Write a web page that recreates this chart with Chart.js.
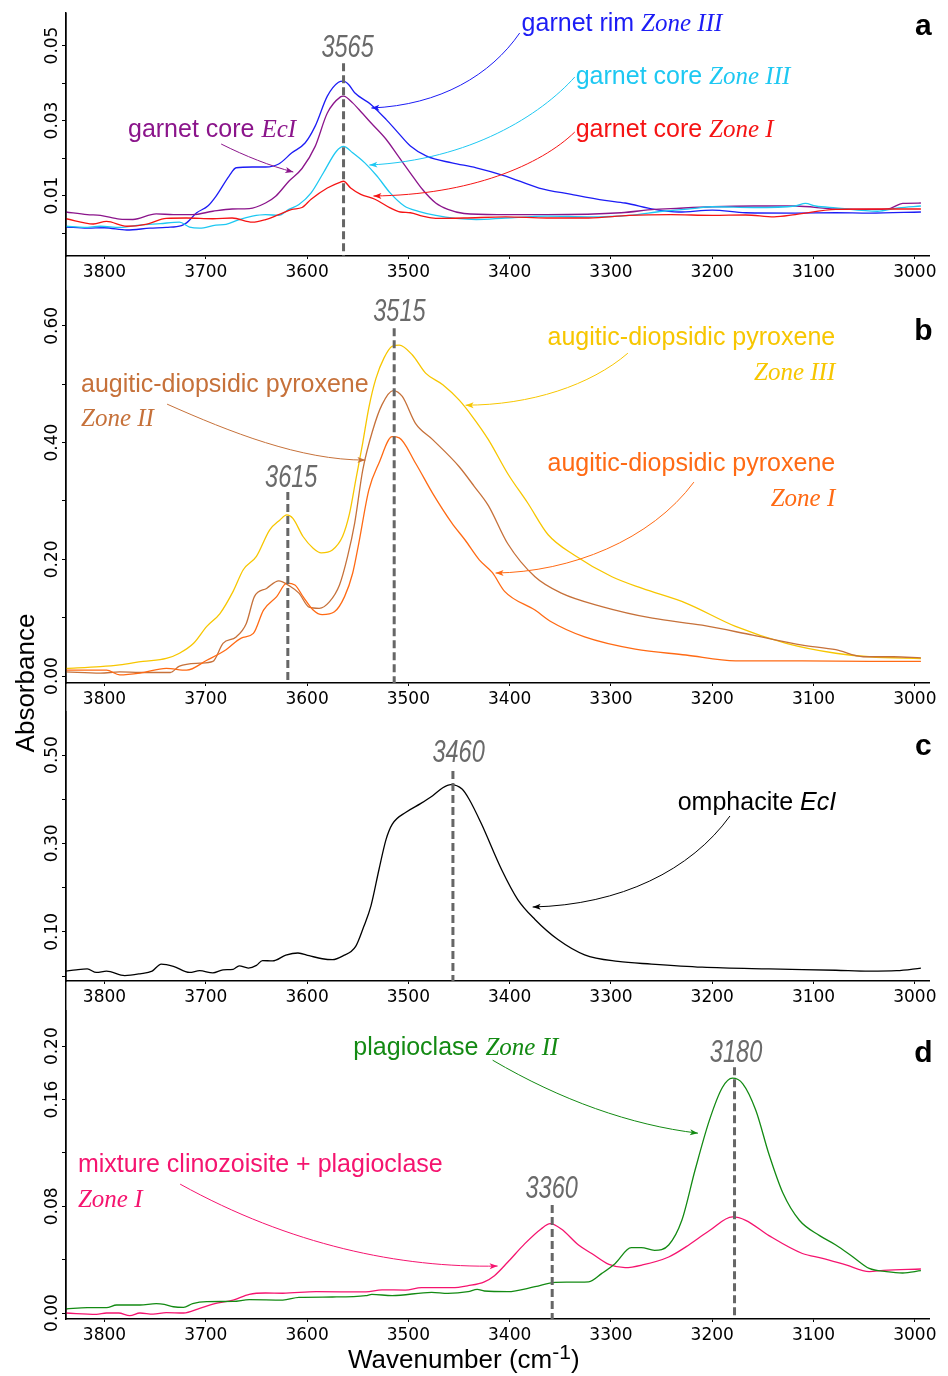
<!DOCTYPE html>
<html>
<head>
<meta charset="utf-8">
<script src="https://cdn.jsdelivr.net/npm/chart.js@4.4.1/dist/chart.umd.min.js"></script>
<style>
  body { margin: 0; background: #fff; }
  #wrap { position: relative; width: 948px; height: 1376px; overflow: hidden; background: #fff; }
  #wrap canvas { position: absolute; left: 0; }
  .title { position: absolute; font-family: "Liberation Sans", Arial, sans-serif; font-size: 26px; color: #000; white-space: nowrap; line-height: 30px; }
</style>
</head>
<body>
<div id="wrap">
  <canvas id="panelA" width="948" height="290" style="top:0"></canvas>
  <canvas id="panelB" width="948" height="420" style="top:290px"></canvas>
  <canvas id="panelC" width="948" height="300" style="top:710px"></canvas>
  <canvas id="panelD" width="948" height="366" style="top:1010px"></canvas>
  <div class="title" style="left:-75px; top:668px; width:200px; height:30px; text-align:center; transform:rotate(-90deg);">Absorbance</div>
  <div class="title" style="left:348px; top:1344px;">Wavenumber (cm<sup style="font-size:21px; vertical-align:9px; line-height:0">-1</sup>)</div>
</div>
<script>
// wavenumber axis
const xTicks = [3800, 3700, 3600, 3500, 3400, 3300, 3200, 3100, 3000];

// panel a : garnet
const waveRimIII = [3838,3817,3800,3778,3755,3739,3724,3719,3709,3698,3690,3677,3670,3654,3641,3628,3615,3602,3592,3580,3569,3564,3559,3553,3537,3522,3510,3498,3482,3457,3433,3404,3371,3339,3306,3286,3257,3233,3200,3167,3118,3078,3045,2994];
const absRimIII = [0.0016,0.0013,0.0014,0.0008,0.0013,0.0015,0.0020,0.0027,0.0054,0.0072,0.0098,0.0152,0.0174,0.0176,0.0176,0.0184,0.0214,0.0240,0.0285,0.0365,0.0402,0.0405,0.0396,0.0374,0.0343,0.0303,0.0267,0.0232,0.0205,0.0187,0.0174,0.0152,0.0120,0.0103,0.0087,0.0080,0.0063,0.0056,0.0061,0.0054,0.0053,0.0054,0.0053,0.0056];
const waveCoreEcI = [3838,3817,3804,3785,3772,3749,3732,3713,3693,3674,3657,3641,3631,3618,3605,3592,3580,3567,3564,3555,3549,3537,3522,3510,3498,3486,3473,3461,3445,3412,3363,3290,3257,3241,3200,3159,3118,3078,3037,3024,3012,2994];
const absCoreEcI = [0.0056,0.0049,0.0047,0.0037,0.0036,0.0051,0.0049,0.0049,0.0058,0.0064,0.0065,0.0080,0.0098,0.0138,0.0172,0.0231,0.0320,0.0363,0.0365,0.0347,0.0330,0.0294,0.0250,0.0205,0.0160,0.0116,0.0080,0.0063,0.0052,0.0049,0.0049,0.0054,0.0063,0.0065,0.0070,0.0072,0.0072,0.0064,0.0063,0.0066,0.0079,0.0080];
const waveCoreIII = [3838,3820,3804,3785,3765,3745,3726,3716,3706,3690,3680,3667,3654,3641,3628,3618,3608,3596,3584,3571,3564,3555,3543,3531,3518,3504,3490,3473,3453,3433,3404,3363,3322,3282,3249,3220,3200,3159,3118,3108,3098,3078,3037,3016,2994];
const absCoreIII = [0.0018,0.0015,0.0018,0.0015,0.0021,0.0025,0.0029,0.0016,0.0013,0.0021,0.0023,0.0036,0.0045,0.0049,0.0047,0.0063,0.0076,0.0107,0.0160,0.0218,0.0231,0.0214,0.0187,0.0152,0.0107,0.0072,0.0058,0.0047,0.0039,0.0036,0.0040,0.0045,0.0043,0.0047,0.0058,0.0065,0.0070,0.0068,0.0072,0.0079,0.0072,0.0067,0.0058,0.0067,0.0072];
const waveCoreI = [3838,3811,3798,3778,3758,3739,3719,3693,3674,3654,3641,3628,3615,3605,3596,3580,3567,3564,3557,3547,3533,3518,3508,3498,3486,3473,3445,3404,3363,3322,3282,3241,3200,3167,3139,3118,3078,3037,2994];
const absCoreI = [0.0038,0.0024,0.0031,0.0018,0.0024,0.0039,0.0040,0.0038,0.0040,0.0029,0.0036,0.0049,0.0063,0.0068,0.0090,0.0120,0.0136,0.0138,0.0120,0.0103,0.0090,0.0067,0.0056,0.0054,0.0045,0.0039,0.0040,0.0043,0.0040,0.0040,0.0047,0.0049,0.0047,0.0048,0.0043,0.0049,0.0063,0.0064,0.0064];
const yTicksA = [0, 0.01, 0.02, 0.03, 0.04, 0.05];
const yLabelsA = [0.01, 0.03, 0.05];

// panel b : augitic-diopsidic pyroxene
const wavePxIII = [3838,3804,3785,3762,3739,3726,3712,3699,3686,3673,3663,3650,3637,3627,3620,3614,3604,3594,3586,3575,3565,3558,3552,3545,3539,3532,3524,3516,3509,3496,3483,3466,3450,3437,3421,3402,3382,3362,3336,3299,3269,3226,3177,3127,3078,3045,2994];
const absPxIII = [0.013,0.016,0.019,0.025,0.030,0.039,0.056,0.085,0.107,0.145,0.182,0.205,0.250,0.267,0.276,0.270,0.239,0.219,0.211,0.216,0.239,0.279,0.335,0.400,0.460,0.510,0.545,0.565,0.567,0.550,0.519,0.499,0.473,0.445,0.405,0.347,0.296,0.242,0.207,0.170,0.150,0.125,0.085,0.056,0.039,0.033,0.030];
const wavePxII = [3838,3804,3785,3765,3735,3726,3706,3693,3683,3670,3660,3652,3640,3628,3617,3608,3598,3588,3578,3568,3560,3553,3545,3535,3526,3515,3506,3493,3476,3450,3435,3421,3402,3375,3349,3309,3259,3210,3160,3111,3078,3051,3021,2994];
const absPxII = [0.007,0.005,0.007,0.006,0.006,0.017,0.022,0.025,0.056,0.067,0.090,0.136,0.150,0.163,0.154,0.142,0.118,0.116,0.127,0.156,0.205,0.262,0.353,0.422,0.465,0.489,0.479,0.433,0.405,0.359,0.325,0.292,0.227,0.170,0.142,0.119,0.099,0.087,0.070,0.053,0.045,0.033,0.033,0.031];
const wavePxI = [3838,3798,3785,3765,3739,3719,3699,3680,3665,3653,3643,3630,3620,3612,3604,3594,3585,3573,3563,3555,3549,3539,3529,3516,3509,3493,3476,3457,3444,3430,3417,3405,3375,3359,3326,3276,3226,3177,3111,3045,2994];
const absPxI = [0.010,0.010,0.002,0.005,0.013,0.010,0.027,0.045,0.065,0.073,0.113,0.136,0.159,0.156,0.136,0.113,0.105,0.110,0.136,0.176,0.227,0.319,0.365,0.410,0.408,0.365,0.313,0.262,0.233,0.199,0.177,0.145,0.113,0.093,0.067,0.046,0.036,0.026,0.026,0.025,0.025];
const yTicksB = [0, 0.1, 0.2, 0.3, 0.4, 0.5, 0.6];
const yLabelsB = [0, 0.2, 0.4, 0.6];

// panel c : omphacite
const waveOmph = [3838,3828,3817,3808,3798,3780,3765,3753,3744,3732,3716,3706,3693,3683,3673,3667,3658,3650,3644,3634,3621,3609,3598,3585,3575,3565,3552,3544,3537,3529,3522,3516,3502,3488,3476,3466,3458,3447,3440,3428,3408,3392,3375,3352,3326,3293,3260,3210,3144,3078,3045,3018,2994];
const absOmph = [0.011,0.014,0.016,0.008,0.011,0.001,0.005,0.011,0.027,0.022,0.008,0.012,0.007,0.014,0.015,0.023,0.018,0.024,0.035,0.034,0.047,0.052,0.046,0.039,0.037,0.045,0.067,0.112,0.158,0.241,0.309,0.343,0.371,0.390,0.408,0.426,0.433,0.423,0.400,0.345,0.241,0.173,0.128,0.082,0.048,0.033,0.027,0.020,0.016,0.013,0.011,0.012,0.018];
const yTicksC = [0, 0.1, 0.2, 0.3, 0.4, 0.5];
const yLabelsC = [0.1, 0.3, 0.5];

// panel d : plagioclase / clinozoisite
const wavePlag = [3838,3817,3798,3788,3765,3749,3741,3732,3722,3713,3699,3673,3657,3624,3608,3575,3542,3536,3516,3477,3461,3441,3432,3425,3402,3375,3355,3322,3309,3296,3280,3270,3257,3243,3230,3217,3203,3190,3180,3170,3157,3144,3130,3114,3094,3078,3061,3045,3028,3012,2994];
const absPlag = [0.003,0.004,0.004,0.006,0.006,0.007,0.0065,0.0047,0.0042,0.007,0.0085,0.0087,0.010,0.0097,0.0117,0.012,0.013,0.014,0.013,0.0155,0.0147,0.016,0.0177,0.0165,0.016,0.0197,0.023,0.0234,0.0297,0.037,0.049,0.049,0.047,0.051,0.0695,0.107,0.144,0.169,0.176,0.172,0.152,0.119,0.0895,0.0695,0.058,0.051,0.042,0.0334,0.031,0.030,0.0317];
const waveMix = [3838,3808,3798,3786,3775,3765,3752,3739,3722,3706,3693,3673,3657,3641,3624,3591,3542,3526,3503,3487,3457,3441,3425,3415,3402,3385,3369,3360,3349,3332,3319,3302,3286,3269,3243,3226,3203,3180,3167,3144,3111,3091,3068,3045,3031,2994];
const absMix = [0.000,-0.001,0.000,0.000,-0.002,0.000,-0.0008,0.0003,0.000,0.0035,0.0067,0.0097,0.014,0.015,0.0148,0.016,0.0158,0.0174,0.0172,0.019,0.019,0.0205,0.0234,0.028,0.038,0.052,0.063,0.067,0.063,0.051,0.0446,0.0364,0.034,0.036,0.042,0.0496,0.0616,0.072,0.0695,0.058,0.0446,0.041,0.036,0.031,0.032,0.033];
const yTicksD = [0, 0.04, 0.08, 0.12, 0.16, 0.20];
const yLabelsD = [0, 0.08, 0.16, 0.20];

const COL = {
  rim: '#1c1cf5', coreIII: '#1ec8f2', coreI: '#f51414', ecI: '#8b158b',
  pxIII: '#f7c600', pxII: '#c6713a', pxI: '#ff6a14', omph: '#000000',
  plag: '#138a13', mix: '#f5146f', peak: '#6a6a6a'
};
const FONTS = {
  sans: '25px "Liberation Sans"',
  serif: 'italic 25px "Liberation Serif"',
  sansIt: 'italic 25px "Liberation Sans"'
};
const tickFont = { family: 'DejaVu Sans', size: 17 };

// annotations (positions in wavenumber / absorbance units)
const panels = {
  panelA: {
    yMin: -0.00613, yMax: 0.05867, padTop: 13, xAxisH: 34, axisFromTop: false, axisToBottom: true,
    yTicks: yTicksA, yLabels: yLabelsA,
    series: [
      { wave: waveCoreI, abs: absCoreI, color: COL.coreI },
      { wave: waveCoreIII, abs: absCoreIII, color: COL.coreIII },
      { wave: waveCoreEcI, abs: absCoreEcI, color: COL.ecI },
      { wave: waveRimIII, abs: absRimIII, color: COL.rim }
    ],
    peaks: [{ at: 3564, top: 0.0453, label: '3565', lx: 3560, ly: 0.0469 }],
    texts: [
      { x: 3388.2, y: 0.05387, align: 'left', color: COL.rim, parts: [['garnet rim ', 'sans'], ['Zone III', 'serif']] },
      { x: 3334.8, y: 0.03973, align: 'left', color: COL.coreIII, parts: [['garnet core ', 'sans'], ['Zone III', 'serif']] },
      { x: 3334.8, y: 0.0256, align: 'left', color: COL.coreI, parts: [['garnet core ', 'sans'], ['Zone I', 'serif']] },
      { x: 3776.8, y: 0.0256, align: 'left', color: COL.ecI, parts: [['garnet core ', 'sans'], ['EcI', 'serif']] }
    ],
    arrows: [
      { color: COL.rim, pts: [[3390.1, 0.05333], [3418.8, 0.04213], [3468.2, 0.03413], [3536.5, 0.03333]] },
      { color: COL.coreIII, pts: [[3335.7, 0.0416], [3369.4, 0.03147], [3438.6, 0.01947], [3538.5, 0.01813]] },
      { color: COL.coreI, pts: [[3335.7, 0.02693], [3369.4, 0.01813], [3438.6, 0.01013], [3534.5, 0.00987]] },
      { color: COL.ecI, pts: [[3684.8, 0.02373], [3661.1, 0.02053], [3636.4, 0.01787], [3613.6, 0.01627]] }
    ],
    letter: { x: 2991.6, y: 0.0528, text: 'a' }
  },
  panelB: {
    yMin: -0.01199, yMax: 0.661, padTop: 0, xAxisH: 27, axisFromTop: true, axisToBottom: true,
    yTicks: yTicksB, yLabels: yLabelsB,
    series: [
      { wave: wavePxI, abs: absPxI, color: COL.pxI },
      { wave: wavePxII, abs: absPxII, color: COL.pxII },
      { wave: wavePxIII, abs: absPxIII, color: COL.pxIII }
    ],
    peaks: [
      { at: 3514, top: 0.5959, label: '3515', lx: 3508.8, ly: 0.6079 },
      { at: 3619, top: 0.3151, label: '3615', lx: 3615.6, ly: 0.3236 }
    ],
    texts: [
      { x: 3078.6, y: 0.5668, align: 'right', color: COL.pxIII, parts: [['augitic-diopsidic pyroxene', 'sans']] },
      { x: 3078.6, y: 0.5068, align: 'right', color: COL.pxIII, parts: [['Zone III', 'serif']] },
      { x: 3823.2, y: 0.4863, align: 'left', color: COL.pxII, parts: [['augitic-diopsidic pyroxene', 'sans']] },
      { x: 3823.2, y: 0.4281, align: 'left', color: COL.pxII, parts: [['Zone II', 'serif']] },
      { x: 3078.6, y: 0.3510, align: 'right', color: COL.pxI, parts: [['augitic-diopsidic pyroxene', 'sans']] },
      { x: 3078.6, y: 0.2911, align: 'right', color: COL.pxI, parts: [['Zone I', 'serif']] }
    ],
    arrows: [
      { color: COL.pxIII, pts: [[3283.3, 0.5531], [3319.9, 0.4983], [3379.3, 0.4640], [3443.5, 0.4640]] },
      { color: COL.pxII, pts: [[3738.2, 0.4658], [3675.9, 0.4178], [3606.7, 0.3699], [3542.4, 0.3699]] },
      { color: COL.pxI, pts: [[3218.1, 0.3322], [3260.6, 0.2329], [3339.7, 0.1781], [3413.9, 0.1764]] }
    ],
    letter: { x: 2991.6, y: 0.5753, text: 'b' }
  },
  panelC: {
    yMin: -0.01131, yMax: 0.5973, padTop: 2, xAxisH: 29, axisFromTop: true, axisToBottom: true,
    yTicks: yTicksC, yLabels: yLabelsC,
    series: [{ wave: waveOmph, abs: absOmph, color: COL.omph }],
    peaks: [{ at: 3456, top: 0.4638, label: '3460', lx: 3450.4, ly: 0.4842 }],
    texts: [
      { x: 3077.7, y: 0.3756, align: 'right', color: COL.omph, parts: [['omphacite ', 'sans'], ['EcI', 'sansIt']] }
    ],
    arrows: [
      { color: COL.omph, pts: [[3182.5, 0.3620], [3221.0, 0.2398], [3290.3, 0.1606], [3377.3, 0.1561]] }
    ],
    letter: { x: 2991.6, y: 0.5, text: 'c' }
  },
  panelD: {
    yMin: -0.00449, yMax: 0.22697, padTop: 0, xAxisH: 57, axisFromTop: true, axisToBottom: false,
    yTicks: yTicksD, yLabels: yLabelsD,
    series: [
      { wave: wavePlag, abs: absPlag, color: COL.plag },
      { wave: waveMix, abs: absMix, color: COL.mix }
    ],
    peaks: [
      { at: 3178, top: 0.1843, label: '3180', lx: 3176.5, ly: 0.1880 },
      { at: 3358, top: 0.0809, label: '3360', lx: 3358.5, ly: 0.0861 }
    ],
    texts: [
      { x: 3554.3, y: 0.1933, align: 'left', color: COL.plag, parts: [['plagioclase ', 'sans'], ['Zone II', 'serif']] },
      { x: 3826.2, y: 0.1056, align: 'left', color: COL.mix, parts: [['mixture clinozoisite + plagioclase', 'sans']] },
      { x: 3826.2, y: 0.0794, align: 'left', color: COL.mix, parts: [['Zone I', 'serif']] }
    ],
    arrows: [
      { color: COL.plag, pts: [[3416.8, 0.1895], [3349.6, 0.1596], [3280.4, 0.1408], [3214.1, 0.1348]] },
      { color: COL.mix, pts: [[3725.3, 0.0966], [3616.6, 0.0509], [3507.8, 0.0337], [3411.9, 0.0352]] }
    ],
    letter: { x: 2991.6, y: 0.1880, text: 'd' }
  }
};

function notesPlugin(p) {
  return {
    id: 'notes',
    afterDraw(chart) {
      const { ctx, chartArea, scales: { x, y } } = chart;
      const px = v => x.getPixelForValue(v);
      const py = v => y.getPixelForValue(v);
      ctx.save();

      // left axis runs on through the tick-label gaps
      const ax = Math.round(chartArea.left - 0.75) + 0.75;
      ctx.strokeStyle = '#000';
      ctx.lineWidth = 1.5;
      ctx.beginPath();
      ctx.moveTo(ax, p.axisFromTop ? 0 : chartArea.top);
      ctx.lineTo(ax, p.axisToBottom ? chart.height : chartArea.bottom);
      ctx.stroke();

      // peak markers
      p.peaks.forEach(k => {
        ctx.setLineDash([8, 4]);
        ctx.lineWidth = 3;
        ctx.strokeStyle = '#666';
        ctx.beginPath();
        ctx.moveTo(px(k.at), py(k.top));
        ctx.lineTo(px(k.at), chartArea.bottom);
        ctx.stroke();
        ctx.setLineDash([]);
        ctx.save();
        ctx.translate(px(k.lx), py(k.ly));
        ctx.scale(0.76, 1);
        ctx.font = 'italic 31px "Liberation Sans"';
        ctx.fillStyle = COL.peak;
        ctx.textAlign = 'center';
        ctx.textBaseline = 'alphabetic';
        ctx.fillText(k.label, 0, 0);
        ctx.restore();
      });

      // arrows
      p.arrows.forEach(a => {
        const P = a.pts.map(([u, v]) => [px(u), py(v)]);
        ctx.strokeStyle = a.color;
        ctx.fillStyle = a.color;
        ctx.lineWidth = 1;
        ctx.beginPath();
        ctx.moveTo(P[0][0], P[0][1]);
        ctx.bezierCurveTo(P[1][0], P[1][1], P[2][0], P[2][1], P[3][0], P[3][1]);
        ctx.stroke();
        const ang = Math.atan2(P[3][1] - P[2][1], P[3][0] - P[2][0]);
        const c = Math.cos(ang), s = Math.sin(ang);
        ctx.beginPath();
        ctx.moveTo(P[3][0], P[3][1]);
        ctx.lineTo(P[3][0] - 8 * c + 3 * s, P[3][1] - 8 * s - 3 * c);
        ctx.lineTo(P[3][0] - 6 * c, P[3][1] - 6 * s);
        ctx.lineTo(P[3][0] - 8 * c - 3 * s, P[3][1] - 8 * s + 3 * c);
        ctx.closePath();
        ctx.fill();
      });

      // labels
      ctx.textAlign = 'left';
      ctx.textBaseline = 'alphabetic';
      p.texts.forEach(t => {
        let w = 0;
        t.parts.forEach(([str, f]) => { ctx.font = FONTS[f]; w += ctx.measureText(str).width; });
        let cx = px(t.x) - (t.align === 'right' ? w : 0);
        const cy = py(t.y);
        ctx.fillStyle = t.color;
        t.parts.forEach(([str, f]) => {
          ctx.font = FONTS[f];
          ctx.fillText(str, cx, cy);
          cx += ctx.measureText(str).width;
        });
      });

      // panel letter
      ctx.font = 'bold 30px "Liberation Sans"';
      ctx.fillStyle = '#000';
      ctx.textAlign = 'center';
      ctx.fillText(p.letter.text, px(p.letter.x), py(p.letter.y));
      ctx.restore();
    }
  };
}

function makePanel(id) {
  const p = panels[id];
  new Chart(document.getElementById(id), {
    type: 'line',
    data: {
      datasets: p.series.map(s => ({
        data: s.wave.map((w, i) => ({ x: w, y: s.abs[i] })),
        borderColor: s.color,
        borderWidth: 1.3,
        pointRadius: 0,
        fill: false,
        cubicInterpolationMode: 'monotone'
      }))
    },
    options: {
      responsive: false,
      animation: false,
      events: [],
      layout: { padding: { top: p.padTop, right: 19, left: 0, bottom: 0 } },
      plugins: { legend: { display: false }, tooltip: { enabled: false } },
      scales: {
        x: {
          type: 'linear',
          reverse: true,
          min: 2986,
          max: 3838,
          bounds: 'data',
          afterBuildTicks: s => { s.ticks = xTicks.map(v => ({ value: v })); },
          afterFit: s => { s.height = p.xAxisH; },
          grid: { display: true, drawOnChartArea: false, tickLength: 3, color: '#000' },
          border: { display: true, color: '#000', width: 1.5 },
          ticks: {
            font: tickFont, color: '#000', padding: 3,
            maxRotation: 0, autoSkip: false,
            callback: v => String(v)
          }
        },
        y: {
          type: 'linear',
          min: p.yMin,
          max: p.yMax,
          bounds: 'data',
          afterBuildTicks: s => { s.ticks = p.yTicks.map(v => ({ value: v })); },
          afterFit: s => { s.width = 66; },
          grid: { display: true, drawOnChartArea: false, tickLength: 4, color: '#000' },
          border: { display: true, color: '#000', width: 1.5 },
          ticks: {
            font: tickFont, color: '#000',
            minRotation: 90, maxRotation: 90,
            crossAlign: 'center', padding: -10,
            callback: v => (p.yLabels.includes(v) ? v.toFixed(2) : '')
          }
        }
      }
    },
    plugins: [notesPlugin(p)]
  });
}

['panelA', 'panelB', 'panelC', 'panelD'].forEach(makePanel);
</script>
</body>
</html>
